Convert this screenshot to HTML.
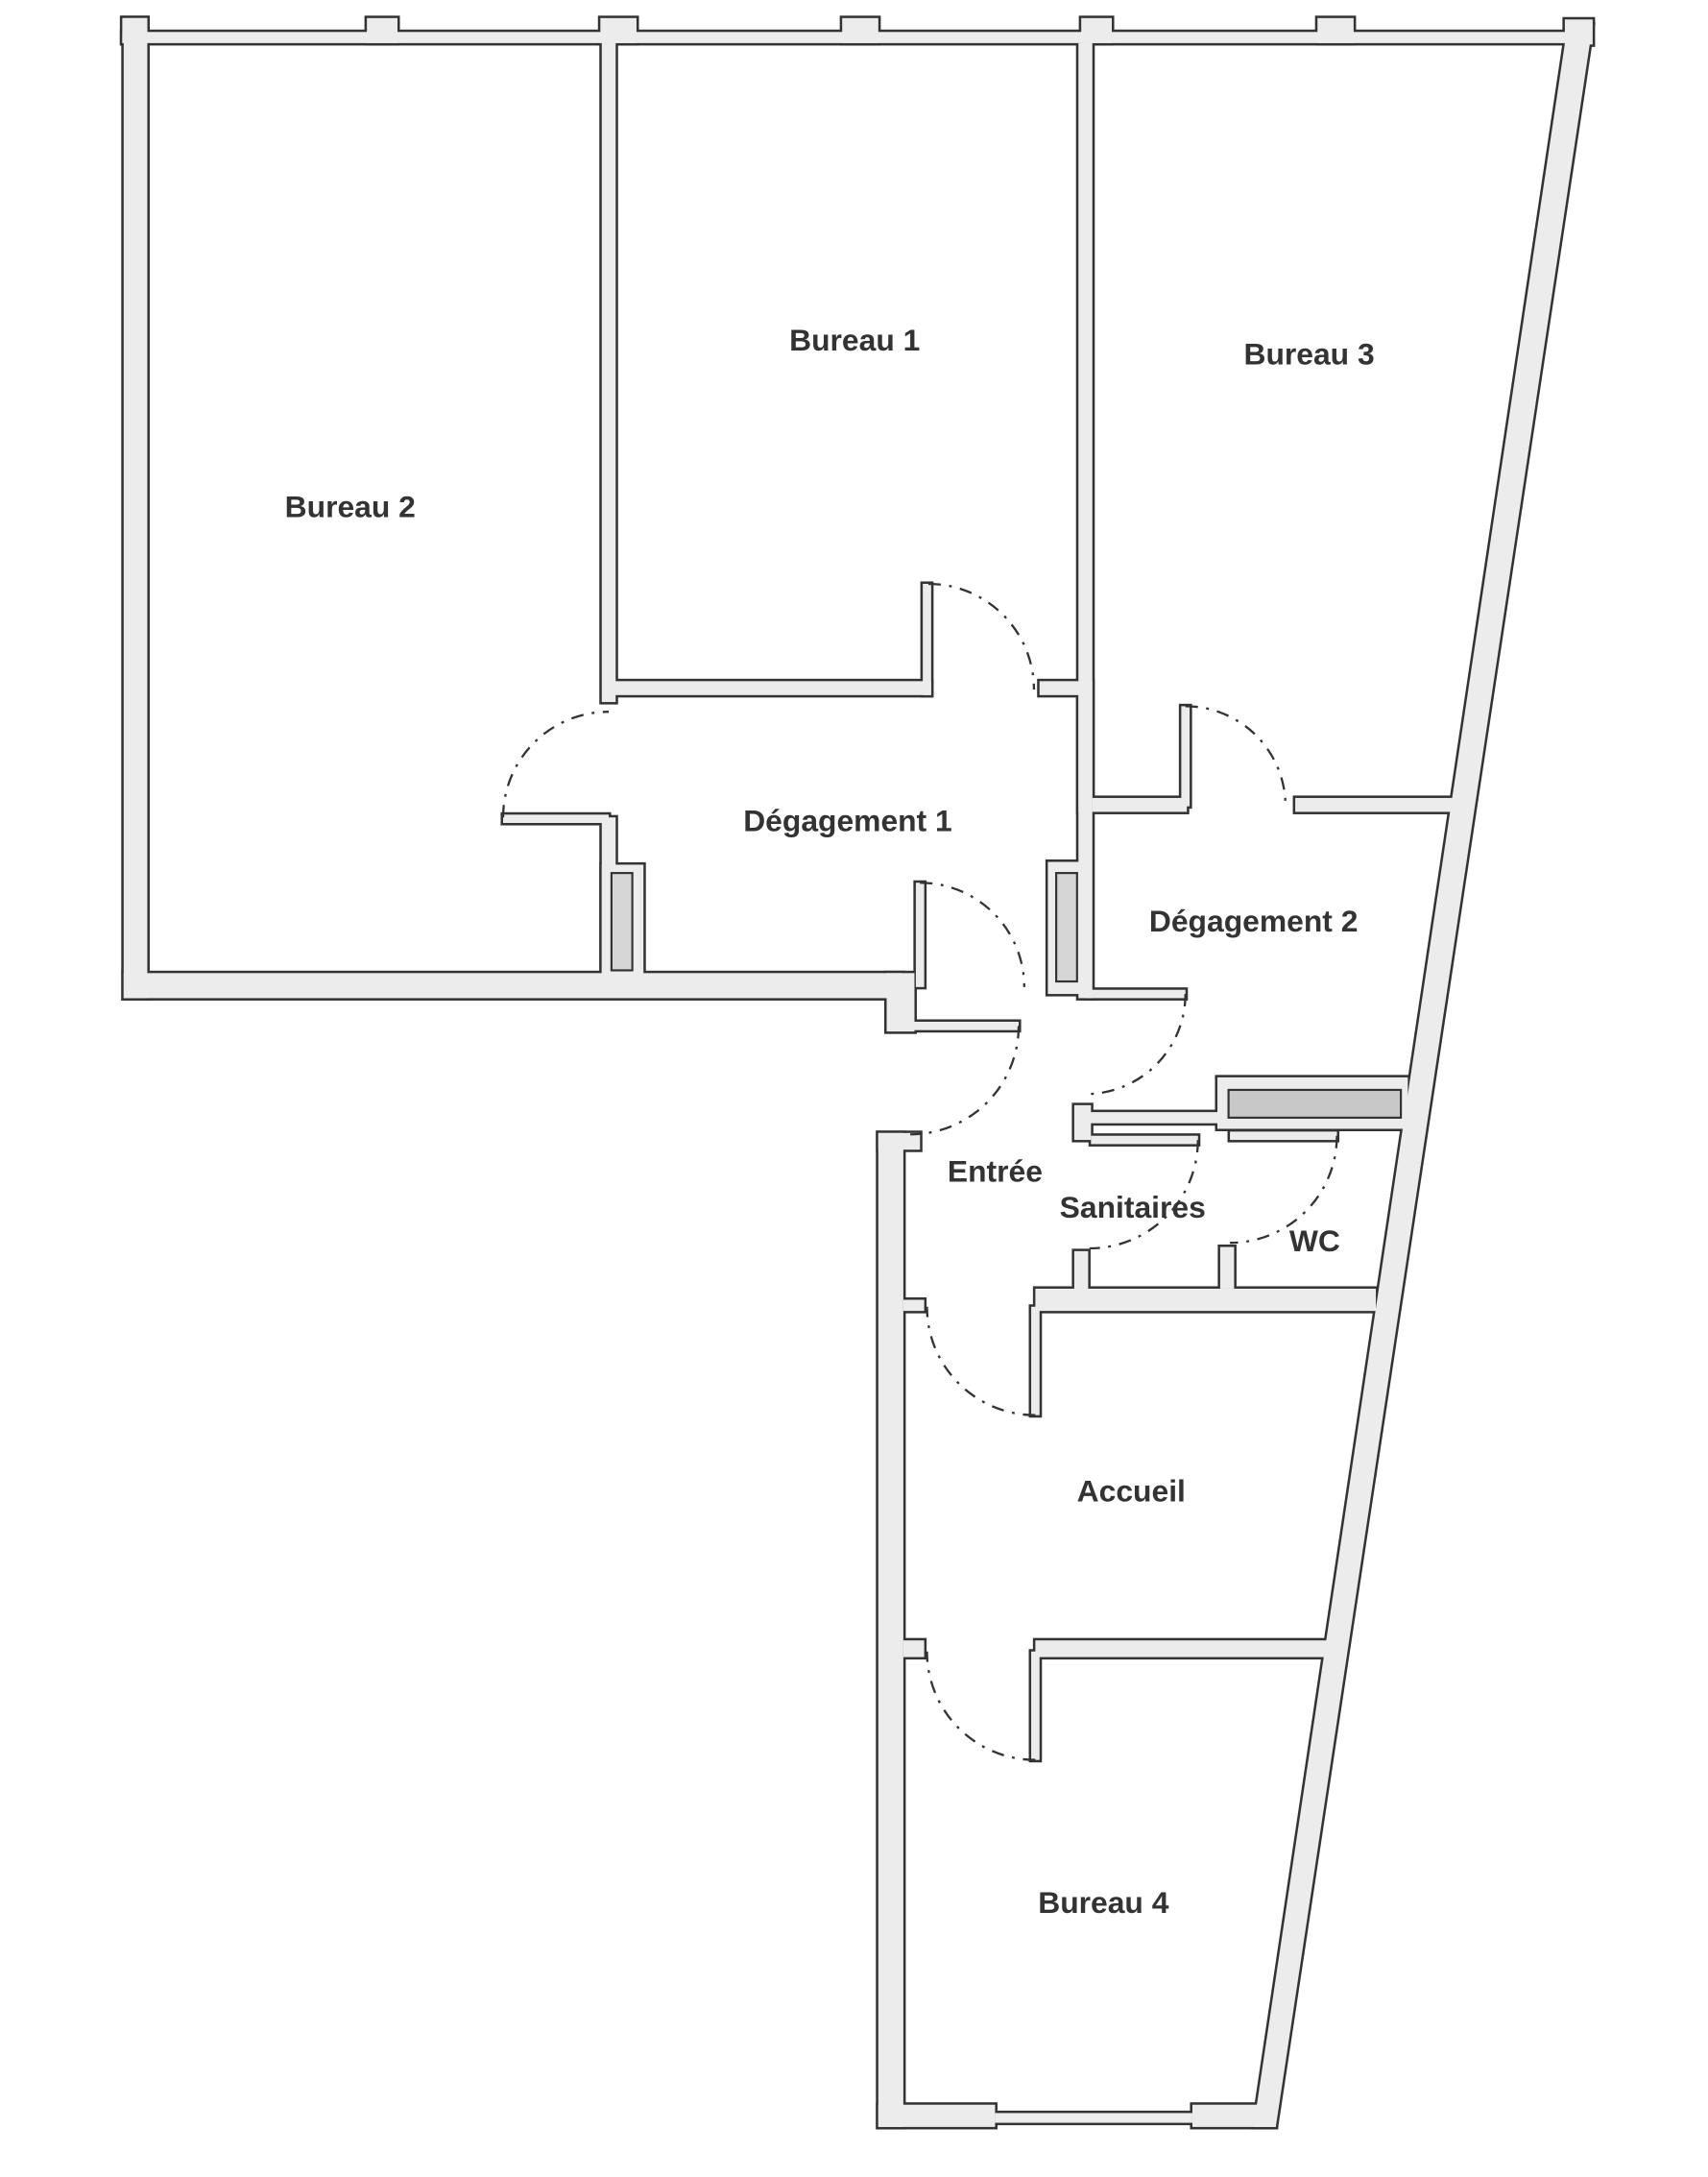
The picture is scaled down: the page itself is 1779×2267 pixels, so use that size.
<!DOCTYPE html>
<html><head><meta charset="utf-8">
<style>
html,body{margin:0;padding:0;background:#fff;}
svg{display:block;}
text{font-family:"Liberation Sans",sans-serif;font-weight:bold;fill:#333;font-size:22px;}
</style></head>
<body>
<svg width="1779" height="2267" viewBox="0 0 1229 1566" preserveAspectRatio="none" xmlns="http://www.w3.org/2000/svg">
<defs>
<g id="walls">
  <!-- top piers -->
  <rect x="88" y="13" width="18" height="18"/>
  <rect x="264" y="13" width="22" height="18"/>
  <rect x="432" y="13" width="26" height="18"/>
  <rect x="606" y="13" width="26" height="18"/>
  <rect x="778" y="13" width="22" height="18"/>
  <rect x="948" y="13" width="26" height="18"/>
  <rect x="1126" y="14" width="20" height="18"/>
  <rect x="88" y="23" width="1056" height="8"/>
  <!-- outer -->
  <rect x="89" y="13" width="17" height="705"/>
  <rect x="89" y="700" width="560" height="18"/>
  <rect x="638" y="700" width="20" height="42"/>
  <rect x="632" y="815" width="18" height="715"/>
  <rect x="632" y="815" width="30" height="12"/>
  <rect x="632" y="1514" width="84" height="16"/>
  <rect x="858" y="1514" width="60" height="16"/>
  <rect x="716" y="1520" width="142" height="7"/>
  <polygon points="1128,18 1146,18 918,1530 902,1530"/>
  <!-- interior -->
  <rect x="433" y="31" width="10" height="474"/>
  <rect x="433" y="588" width="10" height="115"/>
  <rect x="433" y="622" width="30" height="80"/>
  <rect x="362" y="586" width="76" height="6"/>
  <rect x="438" y="490" width="232" height="10"/>
  <rect x="664" y="420" width="6" height="80"/>
  <rect x="748" y="490" width="33" height="10"/>
  <rect x="776" y="31" width="10" height="553"/>
  <rect x="776" y="490" width="10" height="228"/>
  <rect x="754" y="620" width="27" height="95"/>
  <rect x="786" y="574" width="68" height="10"/>
  <rect x="850" y="508" width="6" height="72"/>
  <rect x="932" y="574" width="114" height="10"/>
  <rect x="781" y="712" width="72" height="6"/>
  <rect x="659" y="635" width="6" height="75"/>
  <rect x="655" y="735" width="78" height="6"/>
  <rect x="773" y="795" width="12" height="25"/>
  <rect x="780" y="800" width="100" height="8"/>
  <rect x="876" y="775" width="137" height="37"/>
  <rect x="785" y="817" width="77" height="6"/>
  <rect x="885" y="814" width="77" height="6"/>
  <rect x="745" y="927" width="245" height="16"/>
  <rect x="650" y="935" width="15" height="8"/>
  <rect x="773" y="900" width="10" height="30"/>
  <rect x="878" y="897" width="10" height="30"/>
  <rect x="742" y="940" width="6" height="78"/>
  <rect x="650" y="1180" width="15" height="12"/>
  <rect x="745" y="1180" width="210" height="12"/>
  <rect x="742" y="1188" width="6" height="78"/>
</g>
</defs>
<use href="#walls" fill="none" stroke="#333" stroke-width="3.5"/>
<use href="#walls" fill="#ececec" stroke="none"/>
<!-- ducts -->
<rect x="440" y="628" width="15" height="70" fill="#d6d6d6" stroke="#333" stroke-width="1.5"/>
<rect x="760" y="628" width="15" height="78" fill="#d6d6d6" stroke="#333" stroke-width="1.5"/>
<rect x="884" y="784" width="124" height="20" fill="#c8c8c8" stroke="#333" stroke-width="1.5"/>
<!-- door arcs -->
<g fill="none" stroke="#333" stroke-width="1.6" stroke-dasharray="9 6 2 6">
  <path d="M362,588 A76 76 0 0 1 438,512"/>
  <path d="M668,420 A76 76 0 0 1 744,496"/>
  <path d="M853,508 A72 72 0 0 1 925,580"/>
  <path d="M662,635 A75 75 0 0 1 737,710"/>
  <path d="M733,738 A78 78 0 0 1 655,816"/>
  <path d="M853,715 A72 72 0 0 1 781,787"/>
  <path d="M862,820 A78 78 0 0 1 784,898"/>
  <path d="M962,817 A77 77 0 0 1 885,894"/>
  <path d="M745,1018 A78 78 0 0 1 667,940"/>
  <path d="M745,1266 A78 78 0 0 1 667,1188"/>
</g>
<!-- labels -->
<text x="252" y="372" text-anchor="middle">Bureau  2</text>
<text x="615" y="252" text-anchor="middle">Bureau  1</text>
<text x="942" y="262" text-anchor="middle">Bureau  3</text>
<text x="610" y="598" text-anchor="middle">Dégagement  1</text>
<text x="902" y="670" text-anchor="middle">Dégagement  2</text>
<text x="716" y="850" text-anchor="middle">Entrée</text>
<text x="815" y="876" text-anchor="middle">Sanitaires</text>
<text x="946" y="900" text-anchor="middle">WC</text>
<text x="814" y="1080" text-anchor="middle">Accueil</text>
<text x="794" y="1376" text-anchor="middle">Bureau  4</text>
</svg>
</body></html>
